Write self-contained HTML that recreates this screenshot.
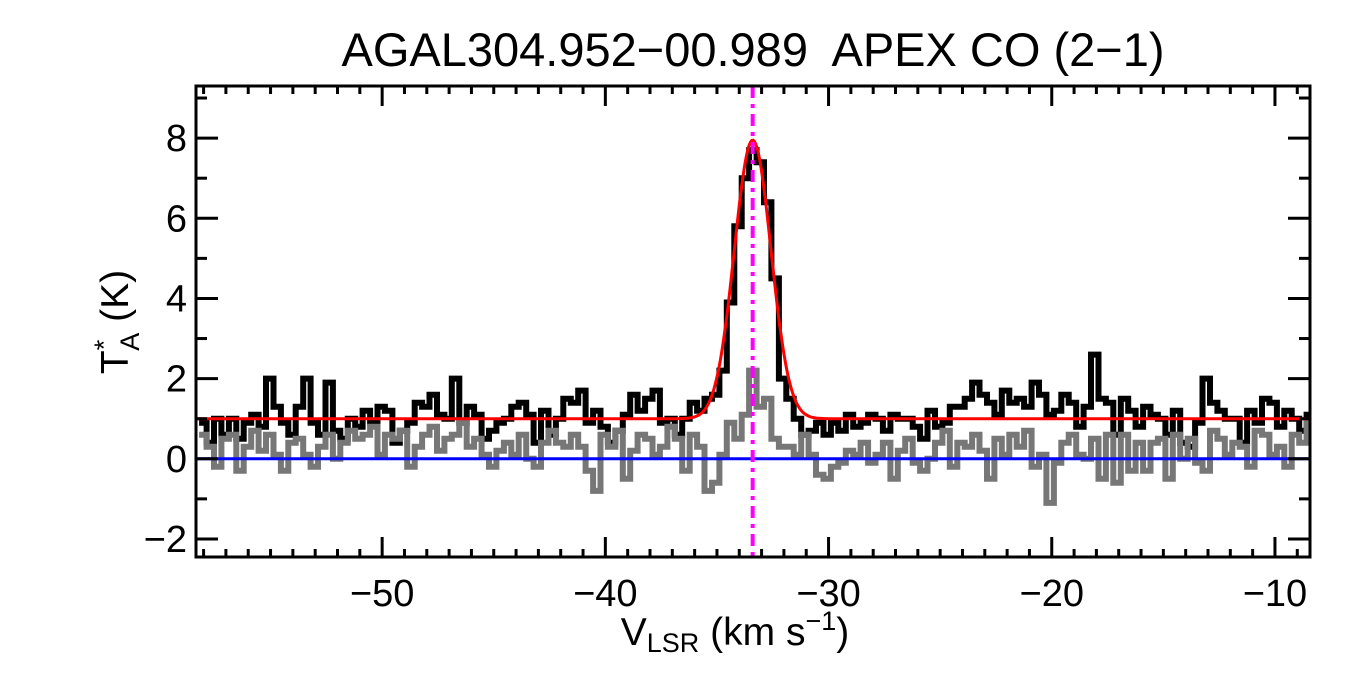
<!DOCTYPE html>
<html><head><meta charset="utf-8">
<style>
html,body{margin:0;padding:0;background:#fff;}
svg{display:block;font-family:"Liberation Sans",sans-serif;}
</style></head>
<body>
<svg id="chart" width="1350" height="675" viewBox="0 0 1350 675">
  <text x="753" y="66" font-size="47" text-anchor="middle" xml:space="preserve">AGAL304.952−00.989  APEX CO (2−1)</text>
  <g id="plot"></g>
  <g id="axes"></g>
  <text x="735" y="645" font-size="39" text-anchor="middle">V<tspan font-size="27" dy="7">LSR</tspan><tspan dy="-7"> (km s</tspan><tspan font-size="27" dy="-15">−1</tspan><tspan dy="15">)</tspan></text>
  <text transform="translate(128,322) rotate(-90)" font-size="39" text-anchor="middle">T<tspan font-size="27" dy="-15">*</tspan><tspan font-size="27" dx="-11" dy="26">A</tspan><tspan dy="-11"> (K)</tspan></text>
</svg>
<script>
const xTicks = [-50, -40, -30, -20, -10];
const yTicks = [-2, 0, 2, 4, 6, 8];
const chanStart = -58.2;
const chanWidth = 0.333;
const blackSpec = [0.9,0.4,1.0,0.6,1.0,0.5,0.9,1.1,0.8,2.0,
1.3,0.9,0.6,1.3,2.0,0.9,0.6,1.9,0.7,0.5,
1.0,0.8,1.2,0.9,1.3,1.2,0.4,0.7,0.9,1.4,
1.3,1.6,1.1,1.0,2.0,0.9,1.3,1.1,0.5,0.7,
0.9,1.0,1.3,1.4,1.1,0.4,1.2,0.6,1.0,1.5,
1.4,1.7,0.9,1.2,0.8,0.4,0.7,1.1,1.6,1.2,
1.5,1.7,0.9,1.0,0.6,1.0,1.4,1.2,1.5,1.6,
2.2,3.9,5.8,7.0,7.7,7.4,6.4,4.5,2.0,1.5,
1.0,0.6,0.7,0.9,0.6,0.9,0.7,1.1,0.8,0.9,
1.1,1.0,0.7,1.1,1.0,1.0,0.8,0.5,1.2,0.8,
0.9,1.3,1.3,1.5,1.9,1.6,1.4,1.1,1.7,1.4,
1.5,1.3,1.9,1.6,1.1,1.2,1.6,1.4,0.8,1.3,
2.6,1.5,1.4,0.6,1.5,1.2,0.8,1.3,1.1,1.0,
0.6,1.2,0.4,0.3,0.9,2.0,1.4,1.2,1.0,1.0,
0.4,1.2,0.9,1.5,1.4,0.8,1.2,1.0,0.7,1.1];
const graySpec = [0.6,0.3,-0.2,0.5,0.6,-0.3,0.3,0.7,0.2,0.6,
0.1,-0.3,0.4,0.5,0.1,-0.2,0.3,0.6,0.0,0.4,
0.7,0.5,0.6,0.8,0.1,0.6,0.5,0.7,-0.2,0.3,
0.6,0.8,0.2,0.5,0.6,0.9,0.3,0.5,0.1,-0.2,
0.2,0.4,0.1,0.6,0.0,-0.2,0.4,0.7,0.4,0.3,
0.6,0.3,-0.3,-0.8,0.6,0.3,0.7,-0.5,0.2,0.6,
0.5,0.1,0.3,0.8,0.5,-0.3,0.6,0.3,-0.8,-0.6,
0.1,0.9,0.5,1.1,2.2,1.3,1.5,0.5,0.3,0.3,
0.1,0.6,0.1,-0.4,-0.5,-0.2,-0.1,0.2,0.1,0.4,
-0.1,0.1,0.4,-0.5,0.2,0.5,-0.1,-0.3,0.0,0.4,
0.7,-0.2,0.4,0.3,0.6,0.2,-0.5,0.5,0.1,0.6,
0.3,0.7,-0.2,0.1,-1.1,-0.1,0.4,0.6,0.1,0.0,
0.5,-0.5,0.6,-0.6,0.6,-0.3,0.4,-0.3,0.4,0.5,
-0.5,0.6,0.0,0.5,-0.1,-0.3,0.7,0.5,0.1,0.4,
0.3,-0.2,0.7,0.6,0.1,0.3,-0.2,0.6,0.4,0.9];
const fitBaseline = 1.0;
const fitAmp = 6.95;
const fitCenter = -33.4;
const fitSigma = 0.82;

const L=196,R=1310,T=86,B=557;
const xMin=-58.34,xMax=-8.43,yMin=-2.45,yMax=9.3;
const xs=v=>L+(v-xMin)/(xMax-xMin)*(R-L);
const ys=v=>B-(v-yMin)/(yMax-yMin)*(B-T);
const NS='http://www.w3.org/2000/svg';
const plot=document.getElementById('plot');
const axes=document.getElementById('axes');
function mk(tag,attrs,parent){const e=document.createElementNS(NS,tag);for(const k in attrs)e.setAttribute(k,attrs[k]);parent.appendChild(e);return e;}

const defs=mk('defs',{},document.getElementById('chart'));
const cp=mk('clipPath',{id:'clip'},defs);
mk('rect',{x:L,y:T,width:R-L,height:B-T},cp);
plot.setAttribute('clip-path','url(#clip)');

function stepPath(arr){
  let d='';
  arr.forEach((v,i)=>{
    const x0=xs(chanStart+i*chanWidth), x1=xs(chanStart+(i+1)*chanWidth), y=ys(v);
    d+=(i===0?'M':'L')+x0.toFixed(1)+','+y.toFixed(1)+'L'+x1.toFixed(1)+','+y.toFixed(1);
  });
  return d;
}
const blk=mk('path',{d:stepPath(blackSpec),fill:'none',stroke:'#000','stroke-width':6},plot);


const gry=mk('path',{d:stepPath(graySpec),fill:'none',stroke:'#777','stroke-width':6},plot);



const zl=mk('line',{x1:L,x2:R,y1:ys(0),y2:ys(0),stroke:'#0000ff','stroke-width':3},plot);



let fd='';
for(let i=0;i<=1000;i++){
  const v=xMin+(xMax-xMin)*i/1000;
  const y=fitBaseline+fitAmp*Math.exp(-0.5*Math.pow((v-fitCenter)/fitSigma,2));
  fd+=(i?'L':'M')+xs(v).toFixed(1)+','+ys(y).toFixed(1);
}
const fit=mk('path',{d:fd,fill:'none',stroke:'#ff0000','stroke-width':3},plot);



const vl=mk('line',{x1:xs(fitCenter),x2:xs(fitCenter),y1:T,y2:B,stroke:'#ff00ff','stroke-width':4,'stroke-dasharray':'12,6,4,6'},plot);



const fr=mk('rect',{x:L,y:T,width:R-L,height:B-T,fill:'none',stroke:'#000','stroke-width':3},axes);



for(let v=-58;v<=-9;v++){
  const major=xTicks.includes(v), len=major?20:8, x=xs(v);
  mk('line',{x1:x,x2:x,y1:B,y2:B-len,stroke:'#000','stroke-width':3},axes);
  mk('line',{x1:x,x2:x,y1:T,y2:T+len,stroke:'#000','stroke-width':3},axes);
}
xTicks.forEach(v=>{
  const t=mk('text',{x:xs(v),y:606,'font-size':38,'text-anchor':'middle'},axes);
  t.textContent=String(v).replace('-','−');
  
  
});
for(let v=-2;v<=9;v++){
  const major=yTicks.includes(v), len=major?22:11, y=ys(v);
  mk('line',{x1:L,x2:L+len,y1:y,y2:y,stroke:'#000','stroke-width':3},axes);
  mk('line',{x1:R,x2:R-len,y1:y,y2:y,stroke:'#000','stroke-width':3},axes);
}
yTicks.forEach(v=>{
  const t=mk('text',{x:187,y:ys(v)+13,'font-size':38,'text-anchor':'end'},axes);
  t.textContent=String(v).replace('-','−');
  
  
});
</script>
</body></html>
